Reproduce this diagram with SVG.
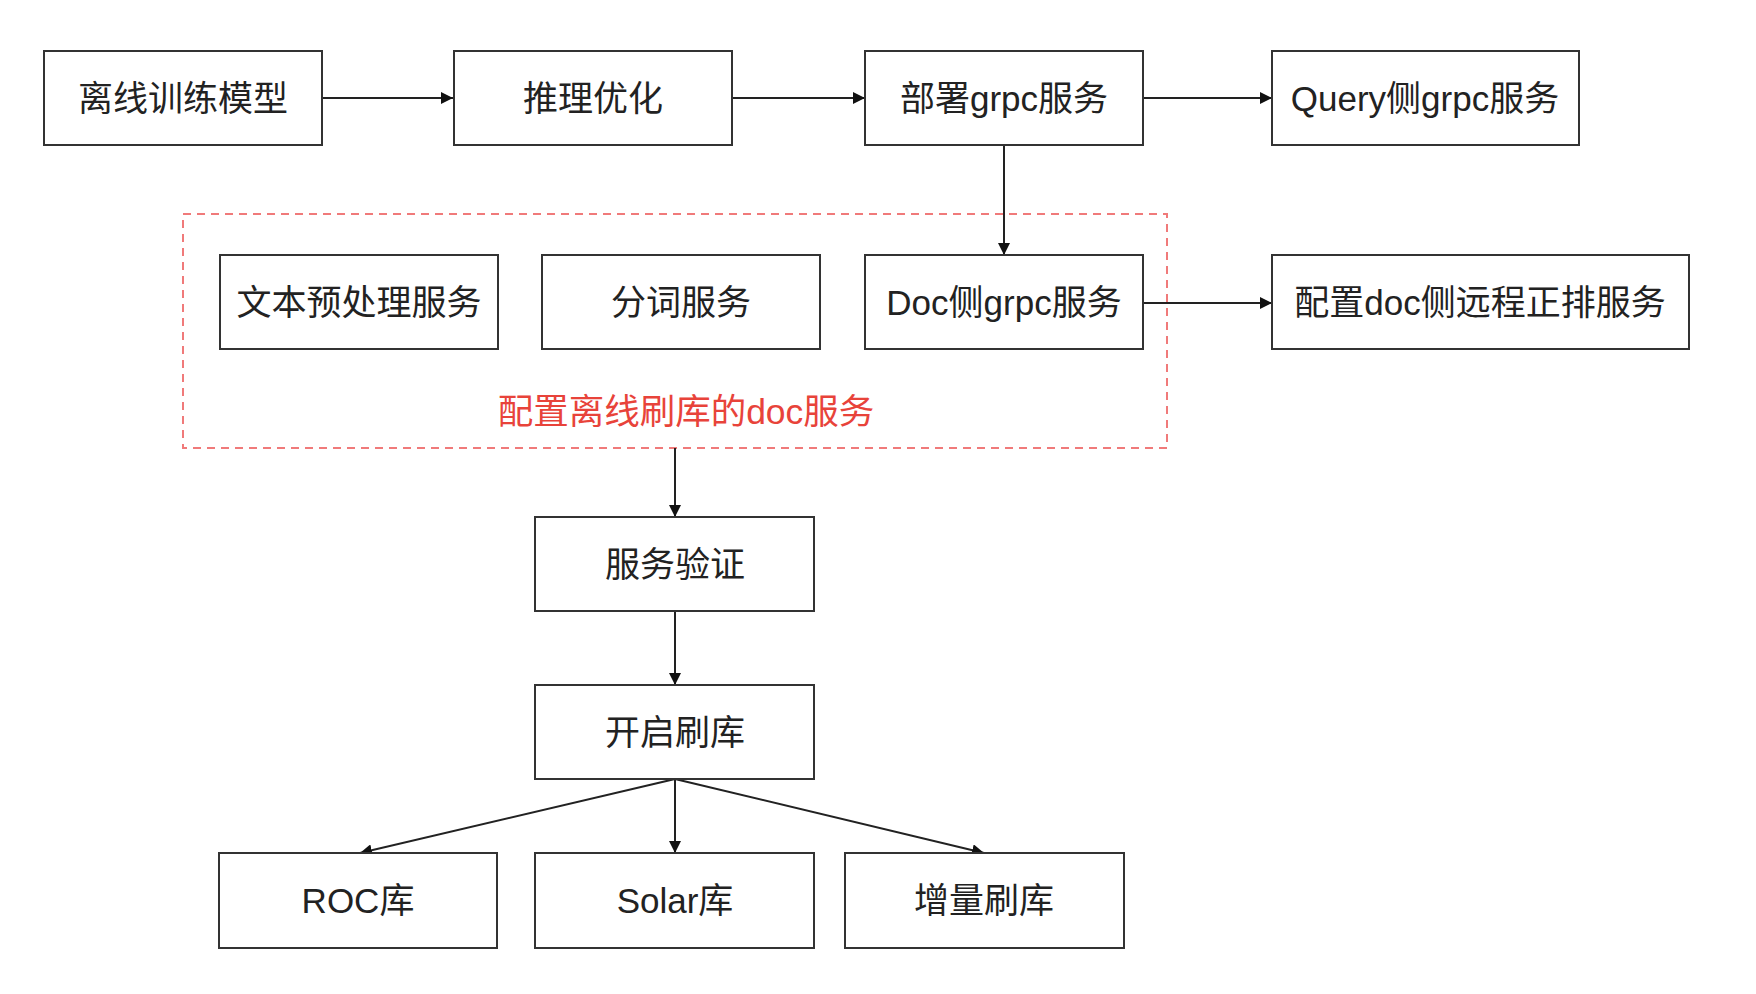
<svg xmlns="http://www.w3.org/2000/svg" width="1756" height="994" viewBox="0 0 1756 994">
<defs>
<style>
.box{fill:#fff;stroke:#333;stroke-width:2}
.lbl{font-family:"Liberation Sans","Noto Sans CJK SC",sans-serif;font-size:35px;fill:#222;text-anchor:middle;dominant-baseline:central}
.red{font-family:"Liberation Sans","Noto Sans CJK SC",sans-serif;font-size:35.5px;fill:#e8433a;text-anchor:middle;dominant-baseline:central}
.edge{stroke:#222;stroke-width:2;fill:none;marker-end:url(#arr)}
</style>
<marker id="arr" viewBox="0 0 10 10" refX="10" refY="5" markerWidth="6" markerHeight="6" orient="auto" markerUnits="strokeWidth">
<path d="M0,0 L10,5 L0,10 z" fill="#111"/>
</marker>
</defs>
<rect width="1756" height="994" fill="#fff"/>
<g id="group-doc">
<rect x="183" y="214" width="984" height="234" fill="none" stroke="#f07a7a" stroke-width="2" stroke-dasharray="8,6"/>
<text class="red" x="686" y="412">配置离线刷库的doc服务</text>
</g>
<g id="connectors">
<line class="edge" x1="322" y1="98" x2="453" y2="98"/>
<line class="edge" x1="732" y1="98" x2="865" y2="98"/>
<line class="edge" x1="1143" y1="98" x2="1272" y2="98"/>
<line class="edge" x1="1004" y1="145" x2="1004" y2="255"/>
<line class="edge" x1="1143" y1="303" x2="1272" y2="303"/>
<line class="edge" x1="675" y1="448" x2="675" y2="517"/>
<line class="edge" x1="675" y1="611" x2="675" y2="685"/>
<line class="edge" x1="675" y1="779" x2="675" y2="853"/>
<line class="edge" x1="675" y1="779" x2="360" y2="853"/>
<line class="edge" x1="675" y1="779" x2="984" y2="853"/>
</g>
<g id="n1"><rect class="box" x="44" y="51" width="278" height="94"/><text class="lbl" x="183" y="98">离线训练模型</text></g>
<g id="n2"><rect class="box" x="454" y="51" width="278" height="94"/><text class="lbl" x="593" y="98">推理优化</text></g>
<g id="n3"><rect class="box" x="865" y="51" width="278" height="94"/><text class="lbl" x="1004" y="98">部署grpc服务</text></g>
<g id="n4"><rect class="box" x="1272" y="51" width="307" height="94"/><text class="lbl" x="1425" y="98">Query侧grpc服务</text></g>
<g id="n5"><rect class="box" x="220" y="255" width="278" height="94"/><text class="lbl" x="359" y="302">文本预处理服务</text></g>
<g id="n6"><rect class="box" x="542" y="255" width="278" height="94"/><text class="lbl" x="681" y="302">分词服务</text></g>
<g id="n7"><rect class="box" x="865" y="255" width="278" height="94"/><text class="lbl" x="1004" y="302">Doc侧grpc服务</text></g>
<g id="n8"><rect class="box" x="1272" y="255" width="417" height="94"/><text class="lbl" x="1480" y="302">配置doc侧远程正排服务</text></g>
<g id="n9"><rect class="box" x="535" y="517" width="279" height="94"/><text class="lbl" x="675" y="564">服务验证</text></g>
<g id="n10"><rect class="box" x="535" y="685" width="279" height="94"/><text class="lbl" x="675" y="732">开启刷库</text></g>
<g id="n11"><rect class="box" x="219" y="853" width="278" height="95"/><text class="lbl" x="358" y="900">ROC库</text></g>
<g id="n12"><rect class="box" x="535" y="853" width="279" height="95"/><text class="lbl" x="675" y="900">Solar库</text></g>
<g id="n13"><rect class="box" x="845" y="853" width="279" height="95"/><text class="lbl" x="984" y="900">增量刷库</text></g>
</svg>
